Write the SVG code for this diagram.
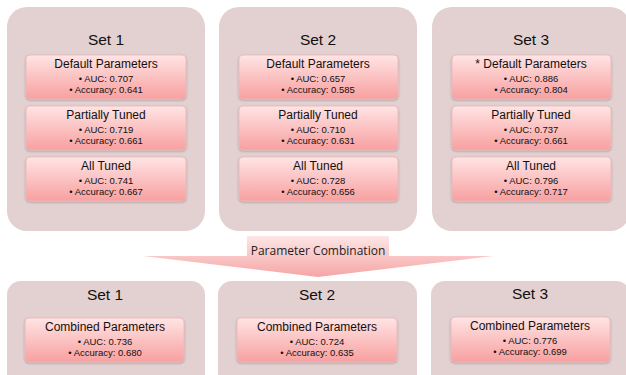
<svg xmlns="http://www.w3.org/2000/svg" width="626" height="375" viewBox="0 0 626 375">
<defs>
<linearGradient id="g" x1="0" y1="0" x2="0" y2="1">
<stop offset="0" stop-color="#ffe4e4"/>
<stop offset="1" stop-color="#f8a0a0"/>
</linearGradient>
<linearGradient id="ga" x1="0" y1="0" x2="0" y2="1">
<stop offset="0" stop-color="#fde6e6"/>
<stop offset="1" stop-color="#f6a5a5"/>
</linearGradient>
<filter id="sh" x="-10%" y="-10%" width="120%" height="130%">
<feDropShadow dx="0" dy="1" stdDeviation="0.8" flood-color="#000" flood-opacity="0.25"/>
</filter>
</defs>
<style>
.set{fill:#e3d0d0;}
.box{fill:url(#g);stroke:#e8b8b8;stroke-width:0.8;filter:url(#sh);}
.t{font-family:"Liberation Sans",Arial,sans-serif;fill:#111;text-anchor:middle;}
.h{font-size:15.5px;}
.b{font-size:12px;}
.s{font-size:9.5px;}
.c{font-family:"Open Sans","Liberation Sans",sans-serif;font-size:12px;fill:#222;text-anchor:middle;}
</style>
<rect width="626" height="375" fill="#ffffff"/>

<g id="top-set1">
<rect class="set" x="7" y="7" width="198" height="224" rx="20"/>
<text class="t h" x="106" y="45">Set 1</text>
<rect class="box" x="26" y="55" width="160" height="44" rx="4"/>
<text class="t b" x="106" y="68">Default Parameters</text>
<text class="t s" x="106" y="82">• AUC: 0.707</text>
<text class="t s" x="106" y="93">• Accuracy: 0.641</text>
<rect class="box" x="26" y="106" width="160" height="44" rx="4"/>
<text class="t b" x="106" y="119">Partially Tuned</text>
<text class="t s" x="106" y="133">• AUC: 0.719</text>
<text class="t s" x="106" y="144">• Accuracy: 0.661</text>
<rect class="box" x="26" y="157" width="160" height="44" rx="4"/>
<text class="t b" x="106" y="170">All Tuned</text>
<text class="t s" x="106" y="184">• AUC: 0.741</text>
<text class="t s" x="106" y="195">• Accuracy: 0.667</text>
</g>

<g id="top-set2">
<rect class="set" x="219" y="7" width="198" height="224" rx="20"/>
<text class="t h" x="318" y="45">Set 2</text>
<rect class="box" x="239" y="55" width="159" height="44" rx="4"/>
<text class="t b" x="318" y="68">Default Parameters</text>
<text class="t s" x="318" y="82">• AUC: 0.657</text>
<text class="t s" x="318" y="93">• Accuracy: 0.585</text>
<rect class="box" x="239" y="106" width="159" height="44" rx="4"/>
<text class="t b" x="318" y="119">Partially Tuned</text>
<text class="t s" x="318" y="133">• AUC: 0.710</text>
<text class="t s" x="318" y="144">• Accuracy: 0.631</text>
<rect class="box" x="239" y="157" width="159" height="44" rx="4"/>
<text class="t b" x="318" y="170">All Tuned</text>
<text class="t s" x="318" y="184">• AUC: 0.728</text>
<text class="t s" x="318" y="195">• Accuracy: 0.656</text>
</g>

<g id="top-set3">
<rect class="set" x="432" y="7" width="198" height="224" rx="20"/>
<text class="t h" x="531" y="45">Set 3</text>
<rect class="box" x="452" y="55" width="159" height="44" rx="4"/>
<text class="t b" x="531" y="68">* Default Parameters</text>
<text class="t s" x="531" y="82">• AUC: 0.886</text>
<text class="t s" x="531" y="93">• Accuracy: 0.804</text>
<rect class="box" x="452" y="106" width="159" height="44" rx="4"/>
<text class="t b" x="531" y="119">Partially Tuned</text>
<text class="t s" x="531" y="133">• AUC: 0.737</text>
<text class="t s" x="531" y="144">• Accuracy: 0.661</text>
<rect class="box" x="452" y="157" width="159" height="44" rx="4"/>
<text class="t b" x="531" y="170">All Tuned</text>
<text class="t s" x="531" y="184">• AUC: 0.796</text>
<text class="t s" x="531" y="195">• Accuracy: 0.717</text>
</g>

<g id="connectors">
<path d="M247,236 H389 V256 H493 L318,277 L143,256 H247 Z" fill="url(#ga)"/>
<text class="c" x="318" y="255">Parameter Combination</text>
</g>

<g id="bottom-set1">
<rect class="set" x="7" y="281" width="198" height="110" rx="14"/>
<text class="t h" x="105" y="300">Set 1</text>
<rect class="box" x="25" y="318" width="159" height="44" rx="4"/>
<text class="t b" x="105" y="331">Combined Parameters</text>
<text class="t s" x="105" y="345">• AUC: 0.736</text>
<text class="t s" x="105" y="356">• Accuracy: 0.680</text>
</g>

<g id="bottom-set2">
<rect class="set" x="218" y="281" width="199" height="110" rx="14"/>
<text class="t h" x="317" y="300">Set 2</text>
<rect class="box" x="237" y="318" width="160" height="44" rx="4"/>
<text class="t b" x="317" y="331">Combined Parameters</text>
<text class="t s" x="317" y="345">• AUC: 0.724</text>
<text class="t s" x="317" y="356">• Accuracy: 0.635</text>
</g>

<g id="bottom-set3">
<rect class="set" x="431" y="281" width="199" height="110" rx="14"/>
<text class="t h" x="530" y="299">Set 3</text>
<rect class="box" x="451" y="317" width="159" height="45" rx="4"/>
<text class="t b" x="530" y="330">Combined Parameters</text>
<text class="t s" x="530" y="344">• AUC: 0.776</text>
<text class="t s" x="530" y="355">• Accuracy: 0.699</text>
</g>
</svg>
